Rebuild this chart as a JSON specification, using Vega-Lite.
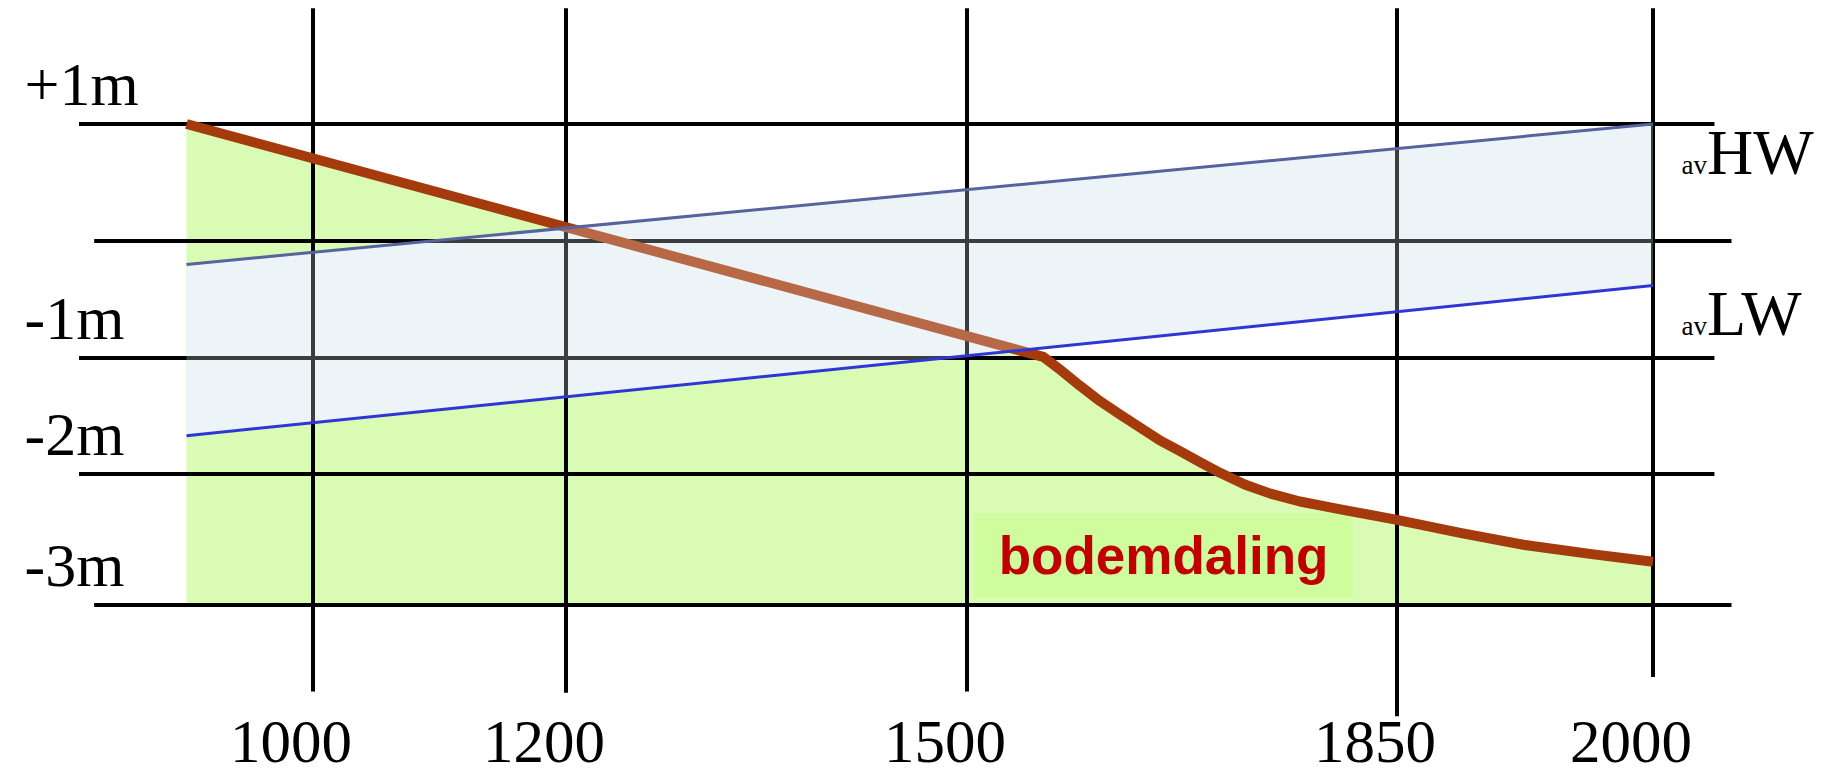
{
  "$schema": "https://vega.github.io/schema/vega-lite/v6.json",
  "width": 1837,
  "height": 777,
  "autosize": {"type": "none"},
  "padding": 0,
  "background": "white",
  "datasets": {
    "ground": [
      {"year": 900, "level": 1.0},
      {"year": 1562, "level": -0.99},
      {"year": 1577, "level": -1.11},
      {"year": 1592, "level": -1.24},
      {"year": 1608, "level": -1.37},
      {"year": 1625, "level": -1.49},
      {"year": 1641, "level": -1.6},
      {"year": 1657, "level": -1.71},
      {"year": 1673, "level": -1.8},
      {"year": 1690, "level": -1.9},
      {"year": 1706, "level": -1.99},
      {"year": 1726, "level": -2.08},
      {"year": 1747, "level": -2.15},
      {"year": 1771, "level": -2.21},
      {"year": 1804, "level": -2.27},
      {"year": 1850, "level": -2.35},
      {"year": 1887, "level": -2.45},
      {"year": 1924, "level": -2.54},
      {"year": 1963, "level": -2.61},
      {"year": 2000, "level": -2.67}
    ],
    "tide": [
      {"year": 900, "hw": -0.2, "lw": -1.67},
      {"year": 2000, "hw": 1.0, "lw": -0.38}
    ],
    "tide_lines": [
      {"series": "HW", "year": 900, "level": -0.2},
      {"series": "HW", "year": 2000, "level": 1.0},
      {"series": "LW", "year": 900, "level": -1.67},
      {"series": "LW", "year": 2000, "level": -0.38}
    ],
    "grid_h": [
      {"level": 1, "from": 815, "to": 2036, "label": "+1m"},
      {"level": 0, "from": 827, "to": 2046, "label": ""},
      {"level": -1, "from": 815, "to": 2036, "label": "-1m"},
      {"level": -2, "from": 815, "to": 2036, "label": "-2m"},
      {"level": -3, "from": 827, "to": 2046, "label": "-3m"}
    ],
    "grid_v": [
      {"year": 1000, "top": 1.99, "bottom": -3.66},
      {"year": 1200, "top": 1.99, "bottom": -3.67},
      {"year": 1500, "top": 1.99, "bottom": -3.66},
      {"year": 1850, "top": 1.99, "bottom": -3.85},
      {"year": 2000, "top": 1.99, "bottom": -3.55}
    ],
    "note": [
      {"label": "bodemdaling", "from": 1506, "to": 1814, "top": -2.3, "bottom": -2.94}
    ]
  },
  "layer": [
    {
      "data": {"name": "ground"},
      "mark": {"type": "area", "color": "#dafbb4"},
      "encoding": {
        "x": {"field": "year", "type": "quantitative",
              "scale": {"domain": [1000, 1200, 1500, 1850, 2000], "range": [313, 566, 967, 1397, 1653], "nice": false, "zero": false}},
        "y": {"field": "level", "type": "quantitative",
              "scale": {"domain": [-3, -2, -1, 0, 1], "range": [605, 474, 358, 241, 124], "nice": false, "zero": false}},
        "y2": {"datum": -3}
      }
    },
    {
      "data": {"name": "note"},
      "mark": {"type": "rect", "color": "#cffc9c"},
      "encoding": {
        "x": {"field": "from", "type": "quantitative"},
        "x2": {"field": "to"},
        "y": {"field": "top", "type": "quantitative"},
        "y2": {"field": "bottom"}
      }
    },
    {
      "data": {"name": "tide"},
      "mark": {"type": "area", "color": "#edf4f7"},
      "encoding": {
        "x": {"field": "year", "type": "quantitative"},
        "y": {"field": "hw", "type": "quantitative"},
        "y2": {"field": "lw"}
      }
    },
    {
      "data": {"name": "grid_h"},
      "mark": {"type": "rule", "color": "black", "strokeWidth": 4},
      "encoding": {
        "x": {"field": "from", "type": "quantitative"},
        "x2": {"field": "to"},
        "y": {"field": "level", "type": "quantitative"}
      }
    },
    {
      "data": {"name": "grid_v"},
      "mark": {"type": "rule", "color": "black", "strokeWidth": 4},
      "encoding": {
        "x": {"field": "year", "type": "quantitative"},
        "y": {"field": "top", "type": "quantitative"},
        "y2": {"field": "bottom"}
      }
    },
    {
      "data": {"name": "ground"},
      "mark": {"type": "line", "color": "#a53a0c", "strokeWidth": 10, "strokeJoin": "round"},
      "encoding": {
        "x": {"field": "year", "type": "quantitative"},
        "y": {"field": "level", "type": "quantitative"}
      }
    },
    {
      "data": {"name": "tide"},
      "mark": {"type": "area", "color": "#edf4f7", "opacity": 0.25},
      "encoding": {
        "x": {"field": "year", "type": "quantitative"},
        "y": {"field": "hw", "type": "quantitative"},
        "y2": {"field": "lw"}
      }
    },
    {
      "data": {"name": "tide_lines"},
      "mark": {"type": "line", "strokeWidth": 3},
      "encoding": {
        "x": {"field": "year", "type": "quantitative"},
        "y": {"field": "level", "type": "quantitative"},
        "color": {"field": "series", "type": "nominal", "legend": null,
                  "scale": {"domain": ["HW", "LW"], "range": ["#56639e", "#2f36d6"]}}
      }
    },
    {
      "data": {"name": "grid_h"},
      "transform": [{"filter": "datum.label != ''"}],
      "mark": {"type": "text", "font": "Liberation Serif", "fontSize": 62, "align": "left", "baseline": "alphabetic", "dy": -19, "color": "black"},
      "encoding": {
        "x": {"datum": 772},
        "y": {"field": "level", "type": "quantitative"},
        "text": {"field": "label"}
      }
    },
    {
      "data": {"name": "grid_v"},
      "mark": {"type": "text", "font": "Liberation Serif", "fontSize": 61, "align": "center", "baseline": "alphabetic", "dx": -22, "color": "black"},
      "encoding": {
        "x": {"field": "year", "type": "quantitative"},
        "y": {"datum": -4.2},
        "text": {"field": "year", "type": "nominal"}
      }
    },
    {
      "data": {"name": "tide_lines"},
      "transform": [{"filter": "datum.year == 2000"}],
      "mark": {"type": "text", "font": "Liberation Serif", "fontSize": 27, "align": "right", "baseline": "alphabetic", "dx": 54, "dy": 50, "color": "black"},
      "encoding": {
        "x": {"field": "year", "type": "quantitative"},
        "y": {"field": "level", "type": "quantitative"},
        "text": {"value": "av"}
      }
    },
    {
      "data": {"name": "tide_lines"},
      "transform": [{"filter": "datum.year == 2000"}],
      "mark": {"type": "text", "font": "Liberation Serif", "fontSize": 64, "align": "left", "baseline": "alphabetic", "dx": 54, "dy": 50, "color": "black"},
      "encoding": {
        "x": {"field": "year", "type": "quantitative"},
        "y": {"field": "level", "type": "quantitative"},
        "text": {"field": "series"}
      }
    },
    {
      "data": {"name": "note"},
      "mark": {"type": "text", "font": "Liberation Sans", "fontWeight": "bold", "fontSize": 53, "align": "center", "baseline": "alphabetic", "color": "#c00000"},
      "encoding": {
        "x": {"datum": 1660},
        "y": {"datum": -2.76},
        "text": {"field": "label"}
      }
    }
  ],
  "config": {"view": {"stroke": null}, "axis": {"disable": true}}
}
